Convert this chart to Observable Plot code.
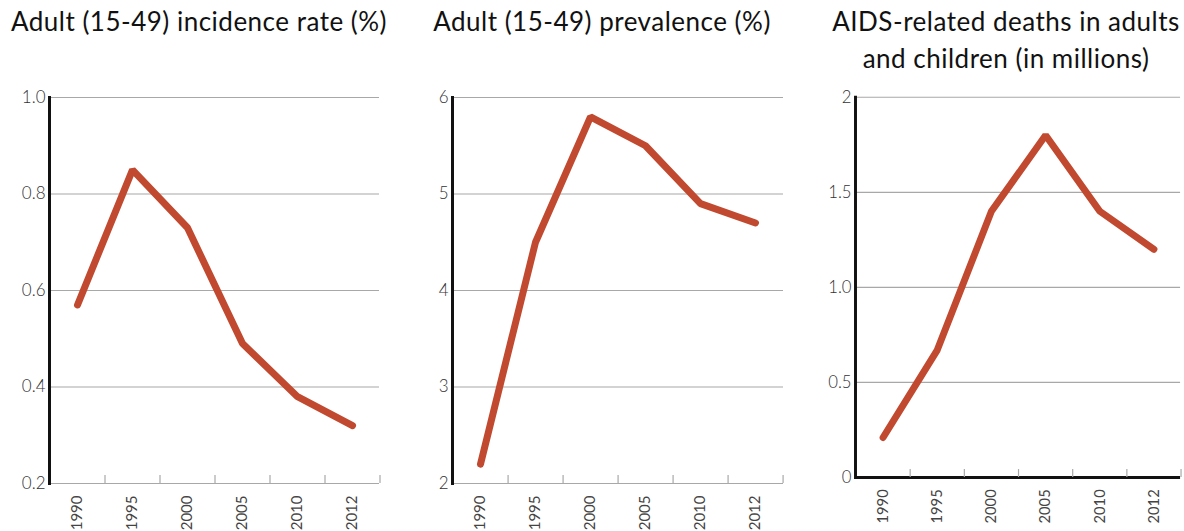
<!DOCTYPE html>
<html>
<head>
<meta charset="utf-8">
<script src="https://cdn.jsdelivr.net/npm/d3@7"></script>
<script src="https://cdn.jsdelivr.net/npm/@observablehq/plot@0.6"></script>
<style>
  html, body { margin: 0; padding: 0; background: #fff; }
  #root { position: relative; width: 1184px; height: 531px; overflow: hidden; background: #fff; }
  .title { position: absolute; top: 3px; width: 440px; text-align: center; font-family: Lato, "Open Sans", sans-serif; font-size: 26px; letter-spacing: 0.5px; line-height: 37px; color: #111; }
  .panel { position: absolute; top: 80px; }
  .panel svg { overflow: visible; }
</style>
</head>
<body>
<div id="root"></div>
<script>
const years = ["1990", "1995", "2000", "2005", "2010", "2012"];
const incidence = [0.57, 0.85, 0.73, 0.49, 0.38, 0.32];
const prevalence = [2.2, 4.5, 5.8, 5.5, 4.9, 4.7];
const deaths = [0.21, 0.67, 1.4, 1.8, 1.4, 1.2];

const incidenceTicks = [0.2, 0.4, 0.6, 0.8, 1.0];
const incidenceLabels = ["0.2", "0.4", "0.6", "0.8", "1.0"];
const prevalenceTicks = [2, 3, 4, 5, 6];
const prevalenceLabels = ["2", "3", "4", "5", "6"];
const deathsTicks = [0, 0.5, 1, 1.5, 2];
const deathsLabels = ["0", "0.5", "1.0", "1.5", "2"];

const titles = [
  "Adult (15-49) incidence rate (%)",
  "Adult (15-49) prevalence (%)",
  "AIDS-related deaths in adults<br>and children (in millions)"
];

const panels = [
  {values: incidence, ticks: incidenceTicks, labels: incidenceLabels, title: titles[0], titleX: 199,
   left: 0, width: 395, marginLeft: 49, marginRight: 16, baseColor: "#a8a8a8", baseWidth: 1.2},
  {values: prevalence, ticks: prevalenceTicks, labels: prevalenceLabels, title: titles[1], titleX: 602,
   left: 395, width: 395, marginLeft: 57, marginRight: 7, baseColor: "#a8a8a8", baseWidth: 1.2},
  {values: deaths, ticks: deathsTicks, labels: deathsLabels, title: titles[2], titleX: 1006,
   left: 790, width: 400, marginLeft: 66, marginRight: 4, baseColor: "#111", baseWidth: 3}
];

const root = document.getElementById("root");
const H = 451, MT = 17, MB = 48;

for (const p of panels) {
  const data = years.map((y, i) => ({year: y, value: p.values[i]}));
  const plotW = p.width - p.marginLeft - p.marginRight;
  const step = plotW / years.length;
  const plotH = H - MT - MB;
  const [y0, y1] = [p.ticks[0], p.ticks[p.ticks.length - 1]];
  const chart = Plot.plot({
    width: p.width,
    height: H,
    marginLeft: p.marginLeft,
    marginRight: p.marginRight,
    marginTop: MT,
    marginBottom: MB,
    style: {fontFamily: "Lato, 'Open Sans', sans-serif", background: "transparent"},
    x: {type: "point", domain: years, padding: 0.5, align: 0.5},
    y: {domain: [y0, y1]},
    marks: [
      Plot.ruleY(p.ticks.slice(1), {stroke: "#a8a8a8", strokeWidth: 1.2}),
      Plot.ruleY([y0], {stroke: p.baseColor, strokeWidth: p.baseWidth}),
      Plot.ruleX(years, {x: d => d, dx: step / 2, insetTop: plotH - 8, stroke: "#a8a8a8", strokeWidth: 1.2}),
      Plot.axisY({ticks: p.ticks, tickFormat: (d, i) => p.labels[i], tickSize: 0, tickPadding: 4,
        fontSize: 17, fontWeight: 300, fill: "#333", label: null}),
      Plot.axisX({tickSize: 0, tickPadding: 12, tickRotate: -90, fontSize: 15, fontWeight: 400,
        fill: "#444", label: null}),
      Plot.frame({anchor: "left", stroke: "#111", strokeWidth: 3}),
      Plot.line(data, {x: "year", y: "value", stroke: "#c1492f", strokeWidth: 7,
        strokeLinecap: "round", strokeLinejoin: "miter"})
    ]
  });
  const div = document.createElement("div");
  div.className = "panel";
  div.style.left = p.left + "px";
  div.appendChild(chart);
  root.appendChild(div);

  const t = document.createElement("div");
  t.className = "title";
  t.style.left = (p.titleX - 220) + "px";
  t.innerHTML = p.title;
  root.appendChild(t);
}
</script>
</body>
</html>
